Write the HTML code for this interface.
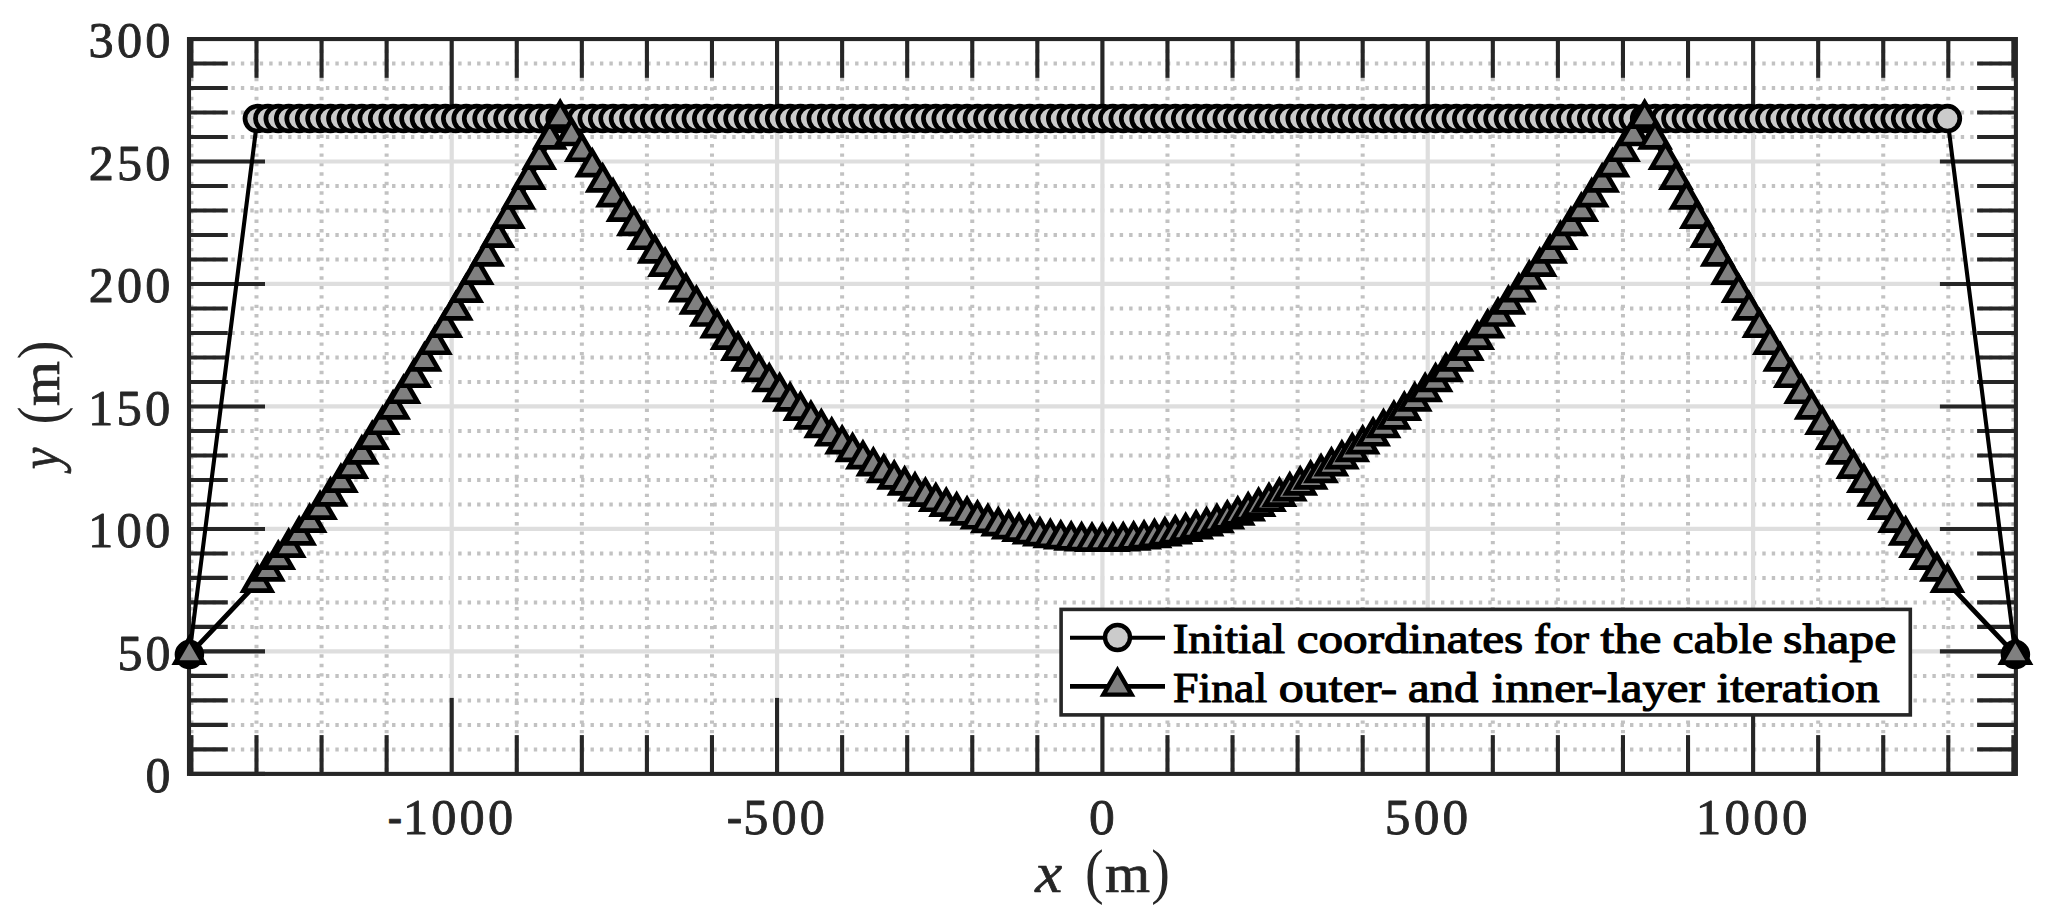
<!DOCTYPE html>
<html lang="en"><head><meta charset="utf-8"><title>Cable shape iteration</title>
<style>
html,body{margin:0;padding:0;background:#fff;}
body{width:2048px;height:916px;overflow:hidden;}
svg{display:block;}
.lg{font-family:"Liberation Serif",serif;font-size:42.6px;fill:#000;stroke:#000;stroke-width:1.15px;stroke-linejoin:round}
.tk{font-family:"Liberation Serif",serif;font-size:47.2px;letter-spacing:3px;fill:#262626;stroke:#262626;stroke-width:0.8px;stroke-linejoin:round}
.al{font-family:"Liberation Serif",serif;font-size:54px;fill:#262626;stroke:#262626;stroke-width:0.7px}
.ap{font-family:"Liberation Serif",serif;font-size:61px;fill:#262626;stroke:none}
.ali{font-family:"Liberation Serif",serif;font-size:56px;font-style:italic;fill:#262626;stroke:#262626;stroke-width:0.7px}
</style></head><body>
<svg width="2048" height="916" viewBox="0 0 2048 916">
<rect x="0" y="0" width="2048" height="916" fill="#ffffff"/>
<g fill="none" stroke="#c2c2c2" stroke-width="4" stroke-dasharray="3.4 6.05">
<line x1="191.42" y1="39.05" x2="191.42" y2="773.9" stroke-dashoffset="-1"/>
<line x1="256.49" y1="39.05" x2="256.49" y2="773.9" stroke-dashoffset="-1"/>
<line x1="321.56" y1="39.05" x2="321.56" y2="773.9" stroke-dashoffset="-1"/>
<line x1="386.63" y1="39.05" x2="386.63" y2="773.9" stroke-dashoffset="-1"/>
<line x1="516.77" y1="39.05" x2="516.77" y2="773.9" stroke-dashoffset="-1"/>
<line x1="581.84" y1="39.05" x2="581.84" y2="773.9" stroke-dashoffset="-1"/>
<line x1="646.91" y1="39.05" x2="646.91" y2="773.9" stroke-dashoffset="-1"/>
<line x1="711.98" y1="39.05" x2="711.98" y2="773.9" stroke-dashoffset="-1"/>
<line x1="842.12" y1="39.05" x2="842.12" y2="773.9" stroke-dashoffset="-1"/>
<line x1="907.19" y1="39.05" x2="907.19" y2="773.9" stroke-dashoffset="-1"/>
<line x1="972.26" y1="39.05" x2="972.26" y2="773.9" stroke-dashoffset="-1"/>
<line x1="1037.33" y1="39.05" x2="1037.33" y2="773.9" stroke-dashoffset="-1"/>
<line x1="1167.47" y1="39.05" x2="1167.47" y2="773.9" stroke-dashoffset="-1"/>
<line x1="1232.54" y1="39.05" x2="1232.54" y2="773.9" stroke-dashoffset="-1"/>
<line x1="1297.61" y1="39.05" x2="1297.61" y2="773.9" stroke-dashoffset="-1"/>
<line x1="1362.68" y1="39.05" x2="1362.68" y2="773.9" stroke-dashoffset="-1"/>
<line x1="1492.82" y1="39.05" x2="1492.82" y2="773.9" stroke-dashoffset="-1"/>
<line x1="1557.89" y1="39.05" x2="1557.89" y2="773.9" stroke-dashoffset="-1"/>
<line x1="1622.96" y1="39.05" x2="1622.96" y2="773.9" stroke-dashoffset="-1"/>
<line x1="1688.03" y1="39.05" x2="1688.03" y2="773.9" stroke-dashoffset="-1"/>
<line x1="1818.17" y1="39.05" x2="1818.17" y2="773.9" stroke-dashoffset="-1"/>
<line x1="1883.24" y1="39.05" x2="1883.24" y2="773.9" stroke-dashoffset="-1"/>
<line x1="1948.31" y1="39.05" x2="1948.31" y2="773.9" stroke-dashoffset="-1"/>
<line x1="2013.38" y1="39.05" x2="2013.38" y2="773.9" stroke-dashoffset="-1"/>
<line x1="189" y1="749.4" x2="2015.9" y2="749.4" stroke-dashoffset="-4.6"/>
<line x1="189" y1="724.91" x2="2015.9" y2="724.91" stroke-dashoffset="-4.6"/>
<line x1="189" y1="700.41" x2="2015.9" y2="700.41" stroke-dashoffset="-4.6"/>
<line x1="189" y1="675.91" x2="2015.9" y2="675.91" stroke-dashoffset="-4.6"/>
<line x1="189" y1="626.92" x2="2015.9" y2="626.92" stroke-dashoffset="-4.6"/>
<line x1="189" y1="602.42" x2="2015.9" y2="602.42" stroke-dashoffset="-4.6"/>
<line x1="189" y1="577.92" x2="2015.9" y2="577.92" stroke-dashoffset="-4.6"/>
<line x1="189" y1="553.43" x2="2015.9" y2="553.43" stroke-dashoffset="-4.6"/>
<line x1="189" y1="504.43" x2="2015.9" y2="504.43" stroke-dashoffset="-4.6"/>
<line x1="189" y1="479.94" x2="2015.9" y2="479.94" stroke-dashoffset="-4.6"/>
<line x1="189" y1="455.44" x2="2015.9" y2="455.44" stroke-dashoffset="-4.6"/>
<line x1="189" y1="430.94" x2="2015.9" y2="430.94" stroke-dashoffset="-4.6"/>
<line x1="189" y1="381.95" x2="2015.9" y2="381.95" stroke-dashoffset="-4.6"/>
<line x1="189" y1="357.45" x2="2015.9" y2="357.45" stroke-dashoffset="-4.6"/>
<line x1="189" y1="332.95" x2="2015.9" y2="332.95" stroke-dashoffset="-4.6"/>
<line x1="189" y1="308.46" x2="2015.9" y2="308.46" stroke-dashoffset="-4.6"/>
<line x1="189" y1="259.46" x2="2015.9" y2="259.46" stroke-dashoffset="-4.6"/>
<line x1="189" y1="234.97" x2="2015.9" y2="234.97" stroke-dashoffset="-4.6"/>
<line x1="189" y1="210.47" x2="2015.9" y2="210.47" stroke-dashoffset="-4.6"/>
<line x1="189" y1="185.97" x2="2015.9" y2="185.97" stroke-dashoffset="-4.6"/>
<line x1="189" y1="136.98" x2="2015.9" y2="136.98" stroke-dashoffset="-4.6"/>
<line x1="189" y1="112.48" x2="2015.9" y2="112.48" stroke-dashoffset="-4.6"/>
<line x1="189" y1="87.98" x2="2015.9" y2="87.98" stroke-dashoffset="-4.6"/>
<line x1="189" y1="63.49" x2="2015.9" y2="63.49" stroke-dashoffset="-4.6"/>
</g>
<g fill="none" stroke="#dedede" stroke-width="4.2">
<line x1="451.7" y1="39.05" x2="451.7" y2="773.9"/>
<line x1="777.05" y1="39.05" x2="777.05" y2="773.9"/>
<line x1="1102.4" y1="39.05" x2="1102.4" y2="773.9"/>
<line x1="1427.75" y1="39.05" x2="1427.75" y2="773.9"/>
<line x1="1753.1" y1="39.05" x2="1753.1" y2="773.9"/>
<line x1="189" y1="651.41" x2="2015.9" y2="651.41"/>
<line x1="189" y1="528.93" x2="2015.9" y2="528.93"/>
<line x1="189" y1="406.44" x2="2015.9" y2="406.44"/>
<line x1="189" y1="283.96" x2="2015.9" y2="283.96"/>
<line x1="189" y1="161.48" x2="2015.9" y2="161.48"/>
</g>
<g fill="none" stroke="#262626" stroke-width="4.1">
<line x1="191.42" y1="773.9" x2="191.42" y2="735.1"/>
<line x1="191.42" y1="39.05" x2="191.42" y2="77.85"/>
<line x1="256.49" y1="773.9" x2="256.49" y2="735.1"/>
<line x1="256.49" y1="39.05" x2="256.49" y2="77.85"/>
<line x1="321.56" y1="773.9" x2="321.56" y2="735.1"/>
<line x1="321.56" y1="39.05" x2="321.56" y2="77.85"/>
<line x1="386.63" y1="773.9" x2="386.63" y2="735.1"/>
<line x1="386.63" y1="39.05" x2="386.63" y2="77.85"/>
<line x1="451.7" y1="773.9" x2="451.7" y2="697.9"/>
<line x1="451.7" y1="39.05" x2="451.7" y2="115.05"/>
<line x1="516.77" y1="773.9" x2="516.77" y2="735.1"/>
<line x1="516.77" y1="39.05" x2="516.77" y2="77.85"/>
<line x1="581.84" y1="773.9" x2="581.84" y2="735.1"/>
<line x1="581.84" y1="39.05" x2="581.84" y2="77.85"/>
<line x1="646.91" y1="773.9" x2="646.91" y2="735.1"/>
<line x1="646.91" y1="39.05" x2="646.91" y2="77.85"/>
<line x1="711.98" y1="773.9" x2="711.98" y2="735.1"/>
<line x1="711.98" y1="39.05" x2="711.98" y2="77.85"/>
<line x1="777.05" y1="773.9" x2="777.05" y2="697.9"/>
<line x1="777.05" y1="39.05" x2="777.05" y2="115.05"/>
<line x1="842.12" y1="773.9" x2="842.12" y2="735.1"/>
<line x1="842.12" y1="39.05" x2="842.12" y2="77.85"/>
<line x1="907.19" y1="773.9" x2="907.19" y2="735.1"/>
<line x1="907.19" y1="39.05" x2="907.19" y2="77.85"/>
<line x1="972.26" y1="773.9" x2="972.26" y2="735.1"/>
<line x1="972.26" y1="39.05" x2="972.26" y2="77.85"/>
<line x1="1037.33" y1="773.9" x2="1037.33" y2="735.1"/>
<line x1="1037.33" y1="39.05" x2="1037.33" y2="77.85"/>
<line x1="1102.4" y1="773.9" x2="1102.4" y2="697.9"/>
<line x1="1102.4" y1="39.05" x2="1102.4" y2="115.05"/>
<line x1="1167.47" y1="773.9" x2="1167.47" y2="735.1"/>
<line x1="1167.47" y1="39.05" x2="1167.47" y2="77.85"/>
<line x1="1232.54" y1="773.9" x2="1232.54" y2="735.1"/>
<line x1="1232.54" y1="39.05" x2="1232.54" y2="77.85"/>
<line x1="1297.61" y1="773.9" x2="1297.61" y2="735.1"/>
<line x1="1297.61" y1="39.05" x2="1297.61" y2="77.85"/>
<line x1="1362.68" y1="773.9" x2="1362.68" y2="735.1"/>
<line x1="1362.68" y1="39.05" x2="1362.68" y2="77.85"/>
<line x1="1427.75" y1="773.9" x2="1427.75" y2="697.9"/>
<line x1="1427.75" y1="39.05" x2="1427.75" y2="115.05"/>
<line x1="1492.82" y1="773.9" x2="1492.82" y2="735.1"/>
<line x1="1492.82" y1="39.05" x2="1492.82" y2="77.85"/>
<line x1="1557.89" y1="773.9" x2="1557.89" y2="735.1"/>
<line x1="1557.89" y1="39.05" x2="1557.89" y2="77.85"/>
<line x1="1622.96" y1="773.9" x2="1622.96" y2="735.1"/>
<line x1="1622.96" y1="39.05" x2="1622.96" y2="77.85"/>
<line x1="1688.03" y1="773.9" x2="1688.03" y2="735.1"/>
<line x1="1688.03" y1="39.05" x2="1688.03" y2="77.85"/>
<line x1="1753.1" y1="773.9" x2="1753.1" y2="697.9"/>
<line x1="1753.1" y1="39.05" x2="1753.1" y2="115.05"/>
<line x1="1818.17" y1="773.9" x2="1818.17" y2="735.1"/>
<line x1="1818.17" y1="39.05" x2="1818.17" y2="77.85"/>
<line x1="1883.24" y1="773.9" x2="1883.24" y2="735.1"/>
<line x1="1883.24" y1="39.05" x2="1883.24" y2="77.85"/>
<line x1="1948.31" y1="773.9" x2="1948.31" y2="735.1"/>
<line x1="1948.31" y1="39.05" x2="1948.31" y2="77.85"/>
<line x1="2013.38" y1="773.9" x2="2013.38" y2="735.1"/>
<line x1="2013.38" y1="39.05" x2="2013.38" y2="77.85"/>
<line x1="189" y1="773.9" x2="265" y2="773.9"/>
<line x1="2015.9" y1="773.9" x2="1939.9" y2="773.9"/>
<line x1="189" y1="749.4" x2="227.8" y2="749.4"/>
<line x1="2015.9" y1="749.4" x2="1977.1" y2="749.4"/>
<line x1="189" y1="724.91" x2="227.8" y2="724.91"/>
<line x1="2015.9" y1="724.91" x2="1977.1" y2="724.91"/>
<line x1="189" y1="700.41" x2="227.8" y2="700.41"/>
<line x1="2015.9" y1="700.41" x2="1977.1" y2="700.41"/>
<line x1="189" y1="675.91" x2="227.8" y2="675.91"/>
<line x1="2015.9" y1="675.91" x2="1977.1" y2="675.91"/>
<line x1="189" y1="651.41" x2="265" y2="651.41"/>
<line x1="2015.9" y1="651.41" x2="1939.9" y2="651.41"/>
<line x1="189" y1="626.92" x2="227.8" y2="626.92"/>
<line x1="2015.9" y1="626.92" x2="1977.1" y2="626.92"/>
<line x1="189" y1="602.42" x2="227.8" y2="602.42"/>
<line x1="2015.9" y1="602.42" x2="1977.1" y2="602.42"/>
<line x1="189" y1="577.92" x2="227.8" y2="577.92"/>
<line x1="2015.9" y1="577.92" x2="1977.1" y2="577.92"/>
<line x1="189" y1="553.43" x2="227.8" y2="553.43"/>
<line x1="2015.9" y1="553.43" x2="1977.1" y2="553.43"/>
<line x1="189" y1="528.93" x2="265" y2="528.93"/>
<line x1="2015.9" y1="528.93" x2="1939.9" y2="528.93"/>
<line x1="189" y1="504.43" x2="227.8" y2="504.43"/>
<line x1="2015.9" y1="504.43" x2="1977.1" y2="504.43"/>
<line x1="189" y1="479.94" x2="227.8" y2="479.94"/>
<line x1="2015.9" y1="479.94" x2="1977.1" y2="479.94"/>
<line x1="189" y1="455.44" x2="227.8" y2="455.44"/>
<line x1="2015.9" y1="455.44" x2="1977.1" y2="455.44"/>
<line x1="189" y1="430.94" x2="227.8" y2="430.94"/>
<line x1="2015.9" y1="430.94" x2="1977.1" y2="430.94"/>
<line x1="189" y1="406.44" x2="265" y2="406.44"/>
<line x1="2015.9" y1="406.44" x2="1939.9" y2="406.44"/>
<line x1="189" y1="381.95" x2="227.8" y2="381.95"/>
<line x1="2015.9" y1="381.95" x2="1977.1" y2="381.95"/>
<line x1="189" y1="357.45" x2="227.8" y2="357.45"/>
<line x1="2015.9" y1="357.45" x2="1977.1" y2="357.45"/>
<line x1="189" y1="332.95" x2="227.8" y2="332.95"/>
<line x1="2015.9" y1="332.95" x2="1977.1" y2="332.95"/>
<line x1="189" y1="308.46" x2="227.8" y2="308.46"/>
<line x1="2015.9" y1="308.46" x2="1977.1" y2="308.46"/>
<line x1="189" y1="283.96" x2="265" y2="283.96"/>
<line x1="2015.9" y1="283.96" x2="1939.9" y2="283.96"/>
<line x1="189" y1="259.46" x2="227.8" y2="259.46"/>
<line x1="2015.9" y1="259.46" x2="1977.1" y2="259.46"/>
<line x1="189" y1="234.97" x2="227.8" y2="234.97"/>
<line x1="2015.9" y1="234.97" x2="1977.1" y2="234.97"/>
<line x1="189" y1="210.47" x2="227.8" y2="210.47"/>
<line x1="2015.9" y1="210.47" x2="1977.1" y2="210.47"/>
<line x1="189" y1="185.97" x2="227.8" y2="185.97"/>
<line x1="2015.9" y1="185.97" x2="1977.1" y2="185.97"/>
<line x1="189" y1="161.48" x2="265" y2="161.48"/>
<line x1="2015.9" y1="161.48" x2="1939.9" y2="161.48"/>
<line x1="189" y1="136.98" x2="227.8" y2="136.98"/>
<line x1="2015.9" y1="136.98" x2="1977.1" y2="136.98"/>
<line x1="189" y1="112.48" x2="227.8" y2="112.48"/>
<line x1="2015.9" y1="112.48" x2="1977.1" y2="112.48"/>
<line x1="189" y1="87.98" x2="227.8" y2="87.98"/>
<line x1="2015.9" y1="87.98" x2="1977.1" y2="87.98"/>
<line x1="189" y1="63.49" x2="227.8" y2="63.49"/>
<line x1="2015.9" y1="63.49" x2="1977.1" y2="63.49"/>
<line x1="189" y1="38.99" x2="265" y2="38.99"/>
<line x1="2015.9" y1="38.99" x2="1939.9" y2="38.99"/>
<rect x="189" y="39.05" width="1826.9" height="734.85"/>
</g>
<g stroke="#000" stroke-linejoin="miter">
<polyline fill="none" stroke-width="4.1" points="189.4,654.6 257.4,118.61 267.84,118.61 278.28,118.61 288.72,118.61 299.16,118.61 309.6,118.61 320.04,118.61 330.48,118.61 340.92,118.61 351.36,118.61 361.8,118.61 372.25,118.61 382.69,118.61 393.13,118.61 403.57,118.61 414.01,118.61 424.45,118.61 434.89,118.61 445.33,118.61 455.77,118.61 466.21,118.61 476.65,118.61 487.09,118.61 497.53,118.61 507.97,118.61 518.41,118.61 528.85,118.61 539.29,118.61 549.73,118.61 560.17,118.61 571.43,118.61 581.84,118.61 592.25,118.61 602.66,118.61 613.07,118.61 623.48,118.61 633.9,118.61 644.31,118.61 654.72,118.61 665.13,118.61 675.54,118.61 685.95,118.61 696.36,118.61 706.77,118.61 717.19,118.61 727.6,118.61 738.01,118.61 748.42,118.61 758.83,118.61 769.24,118.61 779.65,118.61 790.06,118.61 800.48,118.61 810.89,118.61 821.3,118.61 831.71,118.61 842.12,118.61 852.53,118.61 862.94,118.61 873.35,118.61 883.76,118.61 894.18,118.61 904.59,118.61 915,118.61 925.41,118.61 935.82,118.61 946.23,118.61 956.64,118.61 967.05,118.61 977.47,118.61 987.88,118.61 998.29,118.61 1008.7,118.61 1019.11,118.61 1029.52,118.61 1039.93,118.61 1050.34,118.61 1060.76,118.61 1071.17,118.61 1081.58,118.61 1091.99,118.61 1102.4,118.61 1112.81,118.61 1123.22,118.61 1133.63,118.61 1144.04,118.61 1154.46,118.61 1164.87,118.61 1175.28,118.61 1185.69,118.61 1196.1,118.61 1206.51,118.61 1216.92,118.61 1227.33,118.61 1237.75,118.61 1248.16,118.61 1258.57,118.61 1268.98,118.61 1279.39,118.61 1289.8,118.61 1300.21,118.61 1310.62,118.61 1321.04,118.61 1331.45,118.61 1341.86,118.61 1352.27,118.61 1362.68,118.61 1373.09,118.61 1383.5,118.61 1393.91,118.61 1404.32,118.61 1414.74,118.61 1425.15,118.61 1435.56,118.61 1445.97,118.61 1456.38,118.61 1466.79,118.61 1477.2,118.61 1487.61,118.61 1498.03,118.61 1508.44,118.61 1518.85,118.61 1529.26,118.61 1539.67,118.61 1550.08,118.61 1560.49,118.61 1570.9,118.61 1581.32,118.61 1591.73,118.61 1602.14,118.61 1612.55,118.61 1622.96,118.61 1633.37,118.61 1644.63,118.61 1655.07,118.61 1665.51,118.61 1675.95,118.61 1686.39,118.61 1696.83,118.61 1707.27,118.61 1717.71,118.61 1728.15,118.61 1738.59,118.61 1749.03,118.61 1759.47,118.61 1769.91,118.61 1780.35,118.61 1790.79,118.61 1801.23,118.61 1811.67,118.61 1822.11,118.61 1832.55,118.61 1843,118.61 1853.44,118.61 1863.88,118.61 1874.32,118.61 1884.76,118.61 1895.2,118.61 1905.64,118.61 1916.08,118.61 1926.52,118.61 1936.96,118.61 1947.4,118.61 2015.4,654.6"/>
<g fill="#cbcbcb" stroke-width="4.7">
<circle cx="189.4" cy="654.6" r="12.4"/>
<circle cx="257.4" cy="118.61" r="12.4"/>
<circle cx="267.84" cy="118.61" r="12.4"/>
<circle cx="278.28" cy="118.61" r="12.4"/>
<circle cx="288.72" cy="118.61" r="12.4"/>
<circle cx="299.16" cy="118.61" r="12.4"/>
<circle cx="309.6" cy="118.61" r="12.4"/>
<circle cx="320.04" cy="118.61" r="12.4"/>
<circle cx="330.48" cy="118.61" r="12.4"/>
<circle cx="340.92" cy="118.61" r="12.4"/>
<circle cx="351.36" cy="118.61" r="12.4"/>
<circle cx="361.8" cy="118.61" r="12.4"/>
<circle cx="372.25" cy="118.61" r="12.4"/>
<circle cx="382.69" cy="118.61" r="12.4"/>
<circle cx="393.13" cy="118.61" r="12.4"/>
<circle cx="403.57" cy="118.61" r="12.4"/>
<circle cx="414.01" cy="118.61" r="12.4"/>
<circle cx="424.45" cy="118.61" r="12.4"/>
<circle cx="434.89" cy="118.61" r="12.4"/>
<circle cx="445.33" cy="118.61" r="12.4"/>
<circle cx="455.77" cy="118.61" r="12.4"/>
<circle cx="466.21" cy="118.61" r="12.4"/>
<circle cx="476.65" cy="118.61" r="12.4"/>
<circle cx="487.09" cy="118.61" r="12.4"/>
<circle cx="497.53" cy="118.61" r="12.4"/>
<circle cx="507.97" cy="118.61" r="12.4"/>
<circle cx="518.41" cy="118.61" r="12.4"/>
<circle cx="528.85" cy="118.61" r="12.4"/>
<circle cx="539.29" cy="118.61" r="12.4"/>
<circle cx="549.73" cy="118.61" r="12.4"/>
<circle cx="560.17" cy="118.61" r="12.4"/>
<circle cx="571.43" cy="118.61" r="12.4"/>
<circle cx="581.84" cy="118.61" r="12.4"/>
<circle cx="592.25" cy="118.61" r="12.4"/>
<circle cx="602.66" cy="118.61" r="12.4"/>
<circle cx="613.07" cy="118.61" r="12.4"/>
<circle cx="623.48" cy="118.61" r="12.4"/>
<circle cx="633.9" cy="118.61" r="12.4"/>
<circle cx="644.31" cy="118.61" r="12.4"/>
<circle cx="654.72" cy="118.61" r="12.4"/>
<circle cx="665.13" cy="118.61" r="12.4"/>
<circle cx="675.54" cy="118.61" r="12.4"/>
<circle cx="685.95" cy="118.61" r="12.4"/>
<circle cx="696.36" cy="118.61" r="12.4"/>
<circle cx="706.77" cy="118.61" r="12.4"/>
<circle cx="717.19" cy="118.61" r="12.4"/>
<circle cx="727.6" cy="118.61" r="12.4"/>
<circle cx="738.01" cy="118.61" r="12.4"/>
<circle cx="748.42" cy="118.61" r="12.4"/>
<circle cx="758.83" cy="118.61" r="12.4"/>
<circle cx="769.24" cy="118.61" r="12.4"/>
<circle cx="779.65" cy="118.61" r="12.4"/>
<circle cx="790.06" cy="118.61" r="12.4"/>
<circle cx="800.48" cy="118.61" r="12.4"/>
<circle cx="810.89" cy="118.61" r="12.4"/>
<circle cx="821.3" cy="118.61" r="12.4"/>
<circle cx="831.71" cy="118.61" r="12.4"/>
<circle cx="842.12" cy="118.61" r="12.4"/>
<circle cx="852.53" cy="118.61" r="12.4"/>
<circle cx="862.94" cy="118.61" r="12.4"/>
<circle cx="873.35" cy="118.61" r="12.4"/>
<circle cx="883.76" cy="118.61" r="12.4"/>
<circle cx="894.18" cy="118.61" r="12.4"/>
<circle cx="904.59" cy="118.61" r="12.4"/>
<circle cx="915" cy="118.61" r="12.4"/>
<circle cx="925.41" cy="118.61" r="12.4"/>
<circle cx="935.82" cy="118.61" r="12.4"/>
<circle cx="946.23" cy="118.61" r="12.4"/>
<circle cx="956.64" cy="118.61" r="12.4"/>
<circle cx="967.05" cy="118.61" r="12.4"/>
<circle cx="977.47" cy="118.61" r="12.4"/>
<circle cx="987.88" cy="118.61" r="12.4"/>
<circle cx="998.29" cy="118.61" r="12.4"/>
<circle cx="1008.7" cy="118.61" r="12.4"/>
<circle cx="1019.11" cy="118.61" r="12.4"/>
<circle cx="1029.52" cy="118.61" r="12.4"/>
<circle cx="1039.93" cy="118.61" r="12.4"/>
<circle cx="1050.34" cy="118.61" r="12.4"/>
<circle cx="1060.76" cy="118.61" r="12.4"/>
<circle cx="1071.17" cy="118.61" r="12.4"/>
<circle cx="1081.58" cy="118.61" r="12.4"/>
<circle cx="1091.99" cy="118.61" r="12.4"/>
<circle cx="1102.4" cy="118.61" r="12.4"/>
<circle cx="1112.81" cy="118.61" r="12.4"/>
<circle cx="1123.22" cy="118.61" r="12.4"/>
<circle cx="1133.63" cy="118.61" r="12.4"/>
<circle cx="1144.04" cy="118.61" r="12.4"/>
<circle cx="1154.46" cy="118.61" r="12.4"/>
<circle cx="1164.87" cy="118.61" r="12.4"/>
<circle cx="1175.28" cy="118.61" r="12.4"/>
<circle cx="1185.69" cy="118.61" r="12.4"/>
<circle cx="1196.1" cy="118.61" r="12.4"/>
<circle cx="1206.51" cy="118.61" r="12.4"/>
<circle cx="1216.92" cy="118.61" r="12.4"/>
<circle cx="1227.33" cy="118.61" r="12.4"/>
<circle cx="1237.75" cy="118.61" r="12.4"/>
<circle cx="1248.16" cy="118.61" r="12.4"/>
<circle cx="1258.57" cy="118.61" r="12.4"/>
<circle cx="1268.98" cy="118.61" r="12.4"/>
<circle cx="1279.39" cy="118.61" r="12.4"/>
<circle cx="1289.8" cy="118.61" r="12.4"/>
<circle cx="1300.21" cy="118.61" r="12.4"/>
<circle cx="1310.62" cy="118.61" r="12.4"/>
<circle cx="1321.04" cy="118.61" r="12.4"/>
<circle cx="1331.45" cy="118.61" r="12.4"/>
<circle cx="1341.86" cy="118.61" r="12.4"/>
<circle cx="1352.27" cy="118.61" r="12.4"/>
<circle cx="1362.68" cy="118.61" r="12.4"/>
<circle cx="1373.09" cy="118.61" r="12.4"/>
<circle cx="1383.5" cy="118.61" r="12.4"/>
<circle cx="1393.91" cy="118.61" r="12.4"/>
<circle cx="1404.32" cy="118.61" r="12.4"/>
<circle cx="1414.74" cy="118.61" r="12.4"/>
<circle cx="1425.15" cy="118.61" r="12.4"/>
<circle cx="1435.56" cy="118.61" r="12.4"/>
<circle cx="1445.97" cy="118.61" r="12.4"/>
<circle cx="1456.38" cy="118.61" r="12.4"/>
<circle cx="1466.79" cy="118.61" r="12.4"/>
<circle cx="1477.2" cy="118.61" r="12.4"/>
<circle cx="1487.61" cy="118.61" r="12.4"/>
<circle cx="1498.03" cy="118.61" r="12.4"/>
<circle cx="1508.44" cy="118.61" r="12.4"/>
<circle cx="1518.85" cy="118.61" r="12.4"/>
<circle cx="1529.26" cy="118.61" r="12.4"/>
<circle cx="1539.67" cy="118.61" r="12.4"/>
<circle cx="1550.08" cy="118.61" r="12.4"/>
<circle cx="1560.49" cy="118.61" r="12.4"/>
<circle cx="1570.9" cy="118.61" r="12.4"/>
<circle cx="1581.32" cy="118.61" r="12.4"/>
<circle cx="1591.73" cy="118.61" r="12.4"/>
<circle cx="1602.14" cy="118.61" r="12.4"/>
<circle cx="1612.55" cy="118.61" r="12.4"/>
<circle cx="1622.96" cy="118.61" r="12.4"/>
<circle cx="1633.37" cy="118.61" r="12.4"/>
<circle cx="1644.63" cy="118.61" r="12.4"/>
<circle cx="1655.07" cy="118.61" r="12.4"/>
<circle cx="1665.51" cy="118.61" r="12.4"/>
<circle cx="1675.95" cy="118.61" r="12.4"/>
<circle cx="1686.39" cy="118.61" r="12.4"/>
<circle cx="1696.83" cy="118.61" r="12.4"/>
<circle cx="1707.27" cy="118.61" r="12.4"/>
<circle cx="1717.71" cy="118.61" r="12.4"/>
<circle cx="1728.15" cy="118.61" r="12.4"/>
<circle cx="1738.59" cy="118.61" r="12.4"/>
<circle cx="1749.03" cy="118.61" r="12.4"/>
<circle cx="1759.47" cy="118.61" r="12.4"/>
<circle cx="1769.91" cy="118.61" r="12.4"/>
<circle cx="1780.35" cy="118.61" r="12.4"/>
<circle cx="1790.79" cy="118.61" r="12.4"/>
<circle cx="1801.23" cy="118.61" r="12.4"/>
<circle cx="1811.67" cy="118.61" r="12.4"/>
<circle cx="1822.11" cy="118.61" r="12.4"/>
<circle cx="1832.55" cy="118.61" r="12.4"/>
<circle cx="1843" cy="118.61" r="12.4"/>
<circle cx="1853.44" cy="118.61" r="12.4"/>
<circle cx="1863.88" cy="118.61" r="12.4"/>
<circle cx="1874.32" cy="118.61" r="12.4"/>
<circle cx="1884.76" cy="118.61" r="12.4"/>
<circle cx="1895.2" cy="118.61" r="12.4"/>
<circle cx="1905.64" cy="118.61" r="12.4"/>
<circle cx="1916.08" cy="118.61" r="12.4"/>
<circle cx="1926.52" cy="118.61" r="12.4"/>
<circle cx="1936.96" cy="118.61" r="12.4"/>
<circle cx="1947.4" cy="118.61" r="12.4"/>
<circle cx="2015.4" cy="654.6" r="12.4"/>
</g>
<polyline fill="none" stroke-width="4.9" points="189.4,654.6 257.4,582.58 267.84,571.26 278.28,559.61 288.72,547.62 299.16,535.3 309.6,522.65 320.04,509.66 330.48,496.33 340.92,482.67 351.36,468.68 361.8,454.36 372.25,439.69 382.69,424.7 393.13,409.37 403.57,393.7 414.01,377.7 424.45,361.37 434.89,344.7 445.33,327.7 455.77,310.36 466.21,292.69 476.65,274.69 487.09,256.35 497.53,237.67 507.97,218.66 518.41,199.32 528.85,179.64 539.29,159.63 549.73,139.29 560.17,118.61 571.43,135.99 581.84,151.74 592.25,167.18 602.66,182.31 613.07,197.13 623.48,211.63 633.9,225.83 644.31,239.71 654.72,253.28 665.13,266.54 675.54,279.48 685.95,292.12 696.36,304.44 706.77,316.45 717.19,328.14 727.6,339.53 738.01,350.6 748.42,361.37 758.83,371.82 769.24,381.95 779.65,391.78 790.06,401.29 800.48,410.5 810.89,419.39 821.3,427.97 831.71,436.23 842.12,444.19 852.53,451.83 862.94,459.16 873.35,466.18 883.76,472.89 894.18,479.28 904.59,485.36 915,491.13 925.41,496.59 935.82,501.74 946.23,506.58 956.64,511.1 967.05,515.31 977.47,519.21 987.88,522.8 998.29,526.07 1008.7,529.03 1019.11,531.69 1029.52,534.03 1039.93,536.05 1050.34,537.77 1060.76,539.17 1071.17,540.26 1081.58,541.04 1091.99,541.51 1102.4,541.67 1112.81,541.51 1123.22,541.04 1133.63,540.26 1144.04,539.17 1154.46,537.77 1164.87,536.05 1175.28,534.03 1185.69,531.69 1196.1,529.03 1206.51,526.07 1216.92,522.8 1227.33,519.21 1237.75,515.31 1248.16,511.1 1258.57,506.58 1268.98,501.74 1279.39,496.59 1289.8,491.13 1300.21,485.36 1310.62,479.28 1321.04,472.89 1331.45,466.18 1341.86,459.16 1352.27,451.83 1362.68,444.19 1373.09,436.23 1383.5,427.97 1393.91,419.39 1404.32,410.5 1414.74,401.29 1425.15,391.78 1435.56,381.95 1445.97,371.82 1456.38,361.37 1466.79,350.6 1477.2,339.53 1487.61,328.14 1498.03,316.45 1508.44,304.44 1518.85,292.12 1529.26,279.48 1539.67,266.54 1550.08,253.28 1560.49,239.71 1570.9,225.83 1581.32,211.63 1591.73,197.13 1602.14,182.31 1612.55,167.18 1622.96,151.74 1633.37,135.99 1644.63,118.61 1655.07,139.29 1665.51,159.63 1675.95,179.64 1686.39,199.32 1696.83,218.66 1707.27,237.67 1717.71,256.35 1728.15,274.69 1738.59,292.69 1749.03,310.36 1759.47,327.7 1769.91,344.7 1780.35,361.37 1790.79,377.7 1801.23,393.7 1811.67,409.37 1822.11,424.7 1832.55,439.69 1843,454.36 1853.44,468.68 1863.88,482.67 1874.32,496.33 1884.76,509.66 1895.2,522.65 1905.64,535.3 1916.08,547.62 1926.52,559.61 1936.96,571.26 1947.4,582.58 2015.4,654.6"/>
<g fill="#808080" stroke-width="4.7" stroke-miterlimit="10">
<polygon points="189.4,638.54 203.31,662.63 175.49,662.63"/>
<polygon points="257.4,566.52 271.31,590.61 243.49,590.61"/>
<polygon points="267.84,555.2 281.75,579.29 253.93,579.29"/>
<polygon points="278.28,543.55 292.19,567.64 264.37,567.64"/>
<polygon points="288.72,531.56 302.63,555.65 274.81,555.65"/>
<polygon points="299.16,519.24 313.07,543.33 285.25,543.33"/>
<polygon points="309.6,506.59 323.51,530.68 295.69,530.68"/>
<polygon points="320.04,493.6 333.95,517.69 306.13,517.69"/>
<polygon points="330.48,480.27 344.39,504.36 316.58,504.36"/>
<polygon points="340.92,466.61 354.83,490.7 327.02,490.7"/>
<polygon points="351.36,452.62 365.27,476.71 337.46,476.71"/>
<polygon points="361.8,438.3 375.71,462.39 347.9,462.39"/>
<polygon points="372.25,423.63 386.15,447.72 358.34,447.72"/>
<polygon points="382.69,408.64 396.59,432.73 368.78,432.73"/>
<polygon points="393.13,393.31 407.03,417.4 379.22,417.4"/>
<polygon points="403.57,377.64 417.47,401.73 389.66,401.73"/>
<polygon points="414.01,361.64 427.91,385.73 400.1,385.73"/>
<polygon points="424.45,345.31 438.36,369.4 410.54,369.4"/>
<polygon points="434.89,328.64 448.8,352.73 420.98,352.73"/>
<polygon points="445.33,311.64 459.24,335.73 431.42,335.73"/>
<polygon points="455.77,294.3 469.68,318.39 441.86,318.39"/>
<polygon points="466.21,276.63 480.12,300.72 452.3,300.72"/>
<polygon points="476.65,258.63 490.56,282.72 462.74,282.72"/>
<polygon points="487.09,240.29 501,264.38 473.18,264.38"/>
<polygon points="497.53,221.61 511.44,245.7 483.62,245.7"/>
<polygon points="507.97,202.6 521.88,226.69 494.06,226.69"/>
<polygon points="518.41,183.26 532.32,207.35 504.5,207.35"/>
<polygon points="528.85,163.58 542.76,187.67 514.94,187.67"/>
<polygon points="539.29,143.57 553.2,167.66 525.38,167.66"/>
<polygon points="549.73,123.23 563.64,147.32 535.82,147.32"/>
<polygon points="560.17,102.55 574.08,126.64 546.26,126.64"/>
<polygon points="571.43,119.93 585.34,144.02 557.52,144.02"/>
<polygon points="581.84,135.68 595.75,159.77 567.93,159.77"/>
<polygon points="592.25,151.12 606.16,175.21 578.34,175.21"/>
<polygon points="602.66,166.25 616.57,190.34 588.75,190.34"/>
<polygon points="613.07,181.07 626.98,205.16 599.17,205.16"/>
<polygon points="623.48,195.57 637.39,219.66 609.58,219.66"/>
<polygon points="633.9,209.77 647.8,233.86 619.99,233.86"/>
<polygon points="644.31,223.65 658.22,247.74 630.4,247.74"/>
<polygon points="654.72,237.22 668.63,261.31 640.81,261.31"/>
<polygon points="665.13,250.48 679.04,274.57 651.22,274.57"/>
<polygon points="675.54,263.42 689.45,287.51 661.63,287.51"/>
<polygon points="685.95,276.06 699.86,300.15 672.04,300.15"/>
<polygon points="696.36,288.38 710.27,312.47 682.45,312.47"/>
<polygon points="706.77,300.39 720.68,324.48 692.87,324.48"/>
<polygon points="717.19,312.08 731.09,336.17 703.28,336.17"/>
<polygon points="727.6,323.47 741.51,347.56 713.69,347.56"/>
<polygon points="738.01,334.54 751.92,358.63 724.1,358.63"/>
<polygon points="748.42,345.31 762.33,369.4 734.51,369.4"/>
<polygon points="758.83,355.76 772.74,379.85 744.92,379.85"/>
<polygon points="769.24,365.89 783.15,389.98 755.33,389.98"/>
<polygon points="779.65,375.72 793.56,399.81 765.74,399.81"/>
<polygon points="790.06,385.23 803.97,409.32 776.16,409.32"/>
<polygon points="800.48,394.44 814.38,418.53 786.57,418.53"/>
<polygon points="810.89,403.33 824.79,427.42 796.98,427.42"/>
<polygon points="821.3,411.91 835.21,436 807.39,436"/>
<polygon points="831.71,420.17 845.62,444.26 817.8,444.26"/>
<polygon points="842.12,428.13 856.03,452.22 828.21,452.22"/>
<polygon points="852.53,435.77 866.44,459.86 838.62,459.86"/>
<polygon points="862.94,443.1 876.85,467.19 849.03,467.19"/>
<polygon points="873.35,450.12 887.26,474.21 859.45,474.21"/>
<polygon points="883.76,456.83 897.67,480.92 869.86,480.92"/>
<polygon points="894.18,463.22 908.08,487.31 880.27,487.31"/>
<polygon points="904.59,469.3 918.5,493.39 890.68,493.39"/>
<polygon points="915,475.07 928.91,499.16 901.09,499.16"/>
<polygon points="925.41,480.53 939.32,504.62 911.5,504.62"/>
<polygon points="935.82,485.68 949.73,509.77 921.91,509.77"/>
<polygon points="946.23,490.52 960.14,514.61 932.32,514.61"/>
<polygon points="956.64,495.04 970.55,519.13 942.73,519.13"/>
<polygon points="967.05,499.25 980.96,523.34 953.15,523.34"/>
<polygon points="977.47,503.15 991.37,527.24 963.56,527.24"/>
<polygon points="987.88,506.74 1001.79,530.83 973.97,530.83"/>
<polygon points="998.29,510.01 1012.2,534.1 984.38,534.1"/>
<polygon points="1008.7,512.97 1022.61,537.06 994.79,537.06"/>
<polygon points="1019.11,515.63 1033.02,539.72 1005.2,539.72"/>
<polygon points="1029.52,517.97 1043.43,542.06 1015.61,542.06"/>
<polygon points="1039.93,519.99 1053.84,544.08 1026.02,544.08"/>
<polygon points="1050.34,521.71 1064.25,545.8 1036.44,545.8"/>
<polygon points="1060.76,523.11 1074.66,547.2 1046.85,547.2"/>
<polygon points="1071.17,524.2 1085.07,548.29 1057.26,548.29"/>
<polygon points="1081.58,524.98 1095.49,549.07 1067.67,549.07"/>
<polygon points="1091.99,525.45 1105.9,549.54 1078.08,549.54"/>
<polygon points="1102.4,525.61 1116.31,549.7 1088.49,549.7"/>
<polygon points="1112.81,525.45 1126.72,549.54 1098.9,549.54"/>
<polygon points="1123.22,524.98 1137.13,549.07 1109.31,549.07"/>
<polygon points="1133.63,524.2 1147.54,548.29 1119.73,548.29"/>
<polygon points="1144.04,523.11 1157.95,547.2 1130.14,547.2"/>
<polygon points="1154.46,521.71 1168.36,545.8 1140.55,545.8"/>
<polygon points="1164.87,519.99 1178.78,544.08 1150.96,544.08"/>
<polygon points="1175.28,517.97 1189.19,542.06 1161.37,542.06"/>
<polygon points="1185.69,515.63 1199.6,539.72 1171.78,539.72"/>
<polygon points="1196.1,512.97 1210.01,537.06 1182.19,537.06"/>
<polygon points="1206.51,510.01 1220.42,534.1 1192.6,534.1"/>
<polygon points="1216.92,506.74 1230.83,530.83 1203.01,530.83"/>
<polygon points="1227.33,503.15 1241.24,527.24 1213.43,527.24"/>
<polygon points="1237.75,499.25 1251.65,523.34 1223.84,523.34"/>
<polygon points="1248.16,495.04 1262.07,519.13 1234.25,519.13"/>
<polygon points="1258.57,490.52 1272.48,514.61 1244.66,514.61"/>
<polygon points="1268.98,485.68 1282.89,509.77 1255.07,509.77"/>
<polygon points="1279.39,480.53 1293.3,504.62 1265.48,504.62"/>
<polygon points="1289.8,475.07 1303.71,499.16 1275.89,499.16"/>
<polygon points="1300.21,469.3 1314.12,493.39 1286.3,493.39"/>
<polygon points="1310.62,463.22 1324.53,487.31 1296.72,487.31"/>
<polygon points="1321.04,456.83 1334.94,480.92 1307.13,480.92"/>
<polygon points="1331.45,450.12 1345.35,474.21 1317.54,474.21"/>
<polygon points="1341.86,443.1 1355.77,467.19 1327.95,467.19"/>
<polygon points="1352.27,435.77 1366.18,459.86 1338.36,459.86"/>
<polygon points="1362.68,428.13 1376.59,452.22 1348.77,452.22"/>
<polygon points="1373.09,420.17 1387,444.26 1359.18,444.26"/>
<polygon points="1383.5,411.91 1397.41,436 1369.59,436"/>
<polygon points="1393.91,403.33 1407.82,427.42 1380.01,427.42"/>
<polygon points="1404.32,394.44 1418.23,418.53 1390.42,418.53"/>
<polygon points="1414.74,385.23 1428.64,409.32 1400.83,409.32"/>
<polygon points="1425.15,375.72 1439.06,399.81 1411.24,399.81"/>
<polygon points="1435.56,365.89 1449.47,389.98 1421.65,389.98"/>
<polygon points="1445.97,355.76 1459.88,379.85 1432.06,379.85"/>
<polygon points="1456.38,345.31 1470.29,369.4 1442.47,369.4"/>
<polygon points="1466.79,334.54 1480.7,358.63 1452.88,358.63"/>
<polygon points="1477.2,323.47 1491.11,347.56 1463.29,347.56"/>
<polygon points="1487.61,312.08 1501.52,336.17 1473.71,336.17"/>
<polygon points="1498.03,300.39 1511.93,324.48 1484.12,324.48"/>
<polygon points="1508.44,288.38 1522.35,312.47 1494.53,312.47"/>
<polygon points="1518.85,276.06 1532.76,300.15 1504.94,300.15"/>
<polygon points="1529.26,263.42 1543.17,287.51 1515.35,287.51"/>
<polygon points="1539.67,250.48 1553.58,274.57 1525.76,274.57"/>
<polygon points="1550.08,237.22 1563.99,261.31 1536.17,261.31"/>
<polygon points="1560.49,223.65 1574.4,247.74 1546.58,247.74"/>
<polygon points="1570.9,209.77 1584.81,233.86 1557,233.86"/>
<polygon points="1581.32,195.57 1595.22,219.66 1567.41,219.66"/>
<polygon points="1591.73,181.07 1605.63,205.16 1577.82,205.16"/>
<polygon points="1602.14,166.25 1616.05,190.34 1588.23,190.34"/>
<polygon points="1612.55,151.12 1626.46,175.21 1598.64,175.21"/>
<polygon points="1622.96,135.68 1636.87,159.77 1609.05,159.77"/>
<polygon points="1633.37,119.93 1647.28,144.02 1619.46,144.02"/>
<polygon points="1644.63,102.55 1658.54,126.64 1630.72,126.64"/>
<polygon points="1655.07,123.23 1668.98,147.32 1641.16,147.32"/>
<polygon points="1665.51,143.57 1679.42,167.66 1651.6,167.66"/>
<polygon points="1675.95,163.58 1689.86,187.67 1662.04,187.67"/>
<polygon points="1686.39,183.26 1700.3,207.35 1672.48,207.35"/>
<polygon points="1696.83,202.6 1710.74,226.69 1682.92,226.69"/>
<polygon points="1707.27,221.61 1721.18,245.7 1693.36,245.7"/>
<polygon points="1717.71,240.29 1731.62,264.38 1703.8,264.38"/>
<polygon points="1728.15,258.63 1742.06,282.72 1714.24,282.72"/>
<polygon points="1738.59,276.63 1752.5,300.72 1724.68,300.72"/>
<polygon points="1749.03,294.3 1762.94,318.39 1735.12,318.39"/>
<polygon points="1759.47,311.64 1773.38,335.73 1745.56,335.73"/>
<polygon points="1769.91,328.64 1783.82,352.73 1756,352.73"/>
<polygon points="1780.35,345.31 1794.26,369.4 1766.44,369.4"/>
<polygon points="1790.79,361.64 1804.7,385.73 1776.89,385.73"/>
<polygon points="1801.23,377.64 1815.14,401.73 1787.33,401.73"/>
<polygon points="1811.67,393.31 1825.58,417.4 1797.77,417.4"/>
<polygon points="1822.11,408.64 1836.02,432.73 1808.21,432.73"/>
<polygon points="1832.55,423.63 1846.46,447.72 1818.65,447.72"/>
<polygon points="1843,438.3 1856.9,462.39 1829.09,462.39"/>
<polygon points="1853.44,452.62 1867.34,476.71 1839.53,476.71"/>
<polygon points="1863.88,466.61 1877.78,490.7 1849.97,490.7"/>
<polygon points="1874.32,480.27 1888.22,504.36 1860.41,504.36"/>
<polygon points="1884.76,493.6 1898.67,517.69 1870.85,517.69"/>
<polygon points="1895.2,506.59 1909.11,530.68 1881.29,530.68"/>
<polygon points="1905.64,519.24 1919.55,543.33 1891.73,543.33"/>
<polygon points="1916.08,531.56 1929.99,555.65 1902.17,555.65"/>
<polygon points="1926.52,543.55 1940.43,567.64 1912.61,567.64"/>
<polygon points="1936.96,555.2 1950.87,579.29 1923.05,579.29"/>
<polygon points="1947.4,566.52 1961.31,590.61 1933.49,590.61"/>
<polygon points="2015.4,638.54 2029.31,662.63 2001.49,662.63"/>
</g>
</g>
<rect x="1061.1" y="609.4" width="849.2" height="105.5" fill="#fff" stroke="#262626" stroke-width="3.6"/>
<g stroke="#000">
<line x1="1070" y1="637.7" x2="1165" y2="637.7" stroke-width="4.1"/>
<circle cx="1117.5" cy="637.5" r="12.5" fill="#cbcbcb" stroke-width="4.4"/>
<line x1="1070" y1="686.4" x2="1165" y2="686.4" stroke-width="4.9"/>
<polygon points="1117.5,670.2 1131.62,694.65 1103.38,694.65" fill="#808080" stroke-width="4.4" stroke-miterlimit="10"/>
</g>
<text class="lg" y="653.3"><tspan x="1172.7" textLength="112.52" lengthAdjust="spacingAndGlyphs">Initial</tspan> <tspan x="1296.66" textLength="226.58" lengthAdjust="spacingAndGlyphs">coordinates</tspan> <tspan x="1533.98" textLength="54.87" lengthAdjust="spacingAndGlyphs">for</tspan> <tspan x="1600.47" textLength="60.98" lengthAdjust="spacingAndGlyphs">the</tspan> <tspan x="1672.6" textLength="100.12" lengthAdjust="spacingAndGlyphs">cable</tspan> <tspan x="1783.13" textLength="113.13" lengthAdjust="spacingAndGlyphs">shape</tspan></text>
<text class="lg" y="701.8"><tspan x="1173.04" textLength="94.15" lengthAdjust="spacingAndGlyphs">Final</tspan> <tspan x="1278.74" textLength="118.5" lengthAdjust="spacingAndGlyphs">outer-</tspan> <tspan x="1408.09" textLength="70.2" lengthAdjust="spacingAndGlyphs">and</tspan> <tspan x="1491.86" textLength="212.78" lengthAdjust="spacingAndGlyphs">inner-layer</tspan> <tspan x="1716.66" textLength="162.99" lengthAdjust="spacingAndGlyphs">iteration</tspan></text>
<text class="tk" transform="translate(0,792.27) scale(1,1.0953)"><tspan x="145.61" y="0" textLength="28.04" lengthAdjust="spacingAndGlyphs">0</tspan></text>
<text class="tk" transform="translate(0,669.78) scale(1,1.0939)"><tspan x="117.49" y="0" textLength="56.17" lengthAdjust="spacingAndGlyphs">50</tspan></text>
<text class="tk" transform="translate(0,547.28) scale(1,1.0942)"><tspan x="88.09" y="0" textLength="85.55" lengthAdjust="spacingAndGlyphs">100</tspan></text>
<text class="tk" transform="translate(0,424.79) scale(1,1.0934)"><tspan x="88.09" y="0" textLength="85.55" lengthAdjust="spacingAndGlyphs">150</tspan></text>
<text class="tk" transform="translate(0,302.31) scale(1,1.0942)"><tspan x="88.73" y="0" textLength="84.88" lengthAdjust="spacingAndGlyphs">200</tspan></text>
<text class="tk" transform="translate(0,179.82) scale(1,1.0934)"><tspan x="88.73" y="0" textLength="84.88" lengthAdjust="spacingAndGlyphs">250</tspan></text>
<text class="tk" transform="translate(0,57.35) scale(1,1.0945)"><tspan x="88.58" y="0" textLength="85.04" lengthAdjust="spacingAndGlyphs">300</tspan></text>
<text class="tk" transform="translate(0,834.36) scale(1,1.0692)"><tspan x="387.75" y="-1.24" textLength="17.07" lengthAdjust="spacingAndGlyphs">-</tspan><tspan x="402.92" y="0" textLength="113.35" lengthAdjust="spacingAndGlyphs">1000</tspan></text>
<text class="tk" transform="translate(0,834.38) scale(1,1.0689)"><tspan x="726.66" y="-1.25" textLength="18.49" lengthAdjust="spacingAndGlyphs">-</tspan><tspan x="743.17" y="0" textLength="84.94" lengthAdjust="spacingAndGlyphs">500</tspan></text>
<text class="tk" transform="translate(0,834.38) scale(1,1.0703)"><tspan x="1088.96" y="0" textLength="29.06" lengthAdjust="spacingAndGlyphs">0</tspan></text>
<text class="tk" transform="translate(0,834.38) scale(1,1.0689)"><tspan x="1384.72" y="0" textLength="86.79" lengthAdjust="spacingAndGlyphs">500</tspan></text>
<text class="tk" transform="translate(0,834.36) scale(1,1.0692)"><tspan x="1695.76" y="0" textLength="114.87" lengthAdjust="spacingAndGlyphs">1000</tspan></text>
<text class="al" y="891.5"><tspan class="ali" x="1035.15" textLength="26.91" lengthAdjust="spacingAndGlyphs">x</tspan> <tspan class="ap" x="1085.12" y="891.71" textLength="18.69" lengthAdjust="spacingAndGlyphs">(</tspan><tspan x="1105.05" y="891.5" textLength="45.11" lengthAdjust="spacingAndGlyphs">m</tspan><tspan class="ap" x="1151.19" y="891.71" textLength="18.69" lengthAdjust="spacingAndGlyphs">)</tspan></text>
<text class="al" transform="translate(58.5,480) rotate(-90)" y="0"><tspan class="ali" x="10.73" y="0" textLength="21.69" lengthAdjust="spacingAndGlyphs">y</tspan> <tspan class="ap" x="55.74" y="1.31" textLength="17.79" lengthAdjust="spacingAndGlyphs">(</tspan><tspan x="74.05" y="0" textLength="45" lengthAdjust="spacingAndGlyphs">m</tspan><tspan class="ap" x="120.79" y="1.31" textLength="18.69" lengthAdjust="spacingAndGlyphs">)</tspan></text>
</svg>
</body></html>
